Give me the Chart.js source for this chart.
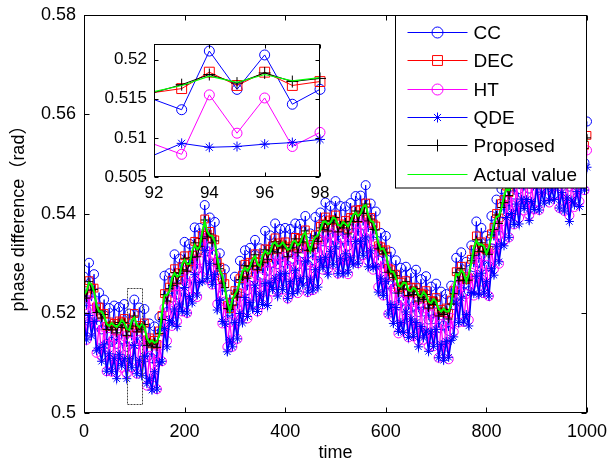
<!DOCTYPE html>
<html>
<head>
<meta charset="utf-8">
<script src="https://cdn.jsdelivr.net/npm/chart.js@4.4.1/dist/chart.umd.min.js"></script>
<style>
body { margin: 0; background: #fff; }
#wrap { position: relative; width: 611px; height: 468px; }
#wrap canvas { position: absolute; left: 0; top: 0; }
</style>
</head>
<body>
<div id="wrap">
  <canvas id="main" width="611" height="468"></canvas>
  <canvas id="inset" width="611" height="468"></canvas>
</div>
<script>
// time axis (sampled every 5 steps)
const time = [0,5,10,15,20,25,30,35,40,45,50,55,60,65,70,75,80,85,90,95,
  100,105,110,115,120,125,130,135,140,145,150,155,160,165,170,175,180,185,190,195,
  200,205,210,215,220,225,230,235,240,245,250,255,260,265,270,275,280,285,290,295,
  300,305,310,315,320,325,330,335,340,345,350,355,360,365,370,375,380,385,390,395,
  400,405,410,415,420,425,430,435,440,445,450,455,460,465,470,475,480,485,490,495,
  500,505,510,515,520,525,530,535,540,545,550,555,560,565,570,575,580,585,590,595,
  600,605,610,615,620,625,630,635,640,645,650,655,660,665,670,675,680,685,690,695,
  700,705,710,715,720,725,730,735,740,745,750,755,760,765,770,775,780,785,790,795,
  800,805,810,815,820,825,830,835,840,845,850,855,860,865,870,875,880,885,890,895,
  900,905,910,915,920,925,930,935,940,945,950,955,960,965,970,975,980,985,990,995,1000];

const actual = [0.5238,0.5245,0.5262,0.5259,0.5244,0.5217,0.5204,0.5204,0.5195,0.5179,
  0.5175,0.5181,0.5176,0.5173,0.5178,0.5187,0.5181,0.5169,0.5167,0.5186,
  0.5192,0.5177,0.5172,0.5179,0.5174,0.5151,0.5142,0.5146,0.5141,0.5143,
  0.5157,0.5202,0.5236,0.5237,0.5246,0.5271,0.5281,0.5274,0.5277,0.5299,
  0.5308,0.5299,0.5300,0.5325,0.5338,0.5329,0.5334,0.5364,0.5385,0.5365,
  0.5357,0.5356,0.5344,0.5311,0.5286,0.5276,0.5251,0.5223,0.5205,0.5228,
  0.5238,0.5247,0.5266,0.5285,0.5292,0.5286,0.5294,0.5309,0.5315,0.5299,
  0.5295,0.5316,0.5326,0.5320,0.5322,0.5340,0.5343,0.5335,0.5337,0.5343,
  0.5336,0.5328,0.5330,0.5344,0.5346,0.5337,0.5342,0.5357,0.5363,0.5338,
  0.5325,0.5345,0.5354,0.5357,0.5368,0.5384,0.5385,0.5379,0.5383,0.5393,
  0.5390,0.5378,0.5376,0.5384,0.5380,0.5375,0.5384,0.5398,0.5403,0.5396,
  0.5401,0.5415,0.5418,0.5398,0.5386,0.5384,0.5367,0.5343,0.5329,0.5331,
  0.5320,0.5297,0.5284,0.5284,0.5272,0.5256,0.5254,0.5262,0.5261,0.5247,
  0.5245,0.5252,0.5248,0.5237,0.5234,0.5243,0.5237,0.5224,0.5221,0.5229,
  0.5224,0.5209,0.5204,0.5210,0.5204,0.5204,0.5218,0.5253,0.5279,0.5277,
  0.5287,0.5281,0.5264,0.5279,0.5302,0.5332,0.5347,0.5338,0.5339,0.5336,
  0.5320,0.5333,0.5356,0.5381,0.5394,0.5396,0.5412,0.5436,0.5451,0.5448,
  0.5457,0.5477,0.5486,0.5484,0.5490,0.5503,0.5501,0.5487,0.5483,0.5504,
  0.5512,0.5506,0.5510,0.5526,0.5530,0.5519,0.5522,0.5529,0.5527,0.5507,
  0.5499,0.5504,0.5498,0.5489,0.5488,0.5510,0.5517,0.5515,0.5523,0.5543,0.5550];

const cc = [0.5274,0.5207,0.5302,0.5225,0.5279,0.5178,0.5242,0.5168,0.5228,0.5139,
  0.5211,0.5143,0.5216,0.5139,0.5213,0.5148,0.5219,0.5133,0.5200,0.5146,
  0.5228,0.5139,0.5212,0.5145,0.5209,0.5112,0.5180,0.5110,0.5174,0.5103,
  0.5193,0.5164,0.5276,0.5203,0.5281,0.5232,0.5319,0.5238,0.5310,0.5259,
  0.5344,0.5261,0.5340,0.5291,0.5373,0.5290,0.5372,0.5328,0.5418,0.5325,
  0.5393,0.5318,0.5384,0.5277,0.5321,0.5237,0.5289,0.5187,0.5238,0.5188,
  0.5274,0.5209,0.5306,0.5251,0.5327,0.5247,0.5332,0.5273,0.5348,0.5259,
  0.5331,0.5278,0.5366,0.5286,0.5357,0.5301,0.5381,0.5299,0.5370,0.5303,
  0.5372,0.5290,0.5370,0.5310,0.5381,0.5298,0.5380,0.5321,0.5396,0.5298,
  0.5361,0.5307,0.5394,0.5323,0.5403,0.5345,0.5423,0.5343,0.5416,0.5353,
  0.5426,0.5340,0.5416,0.5350,0.5415,0.5336,0.5422,0.5362,0.5436,0.5356,
  0.5437,0.5377,0.5458,0.5364,0.5421,0.5345,0.5405,0.5307,0.5362,0.5291,
  0.5356,0.5259,0.5324,0.5250,0.5307,0.5217,0.5292,0.5226,0.5294,0.5207,
  0.5281,0.5214,0.5288,0.5203,0.5269,0.5204,0.5275,0.5188,0.5254,0.5189,
  0.5260,0.5171,0.5244,0.5176,0.5239,0.5165,0.5256,0.5217,0.5312,0.5237,
  0.5323,0.5243,0.5304,0.5245,0.5337,0.5293,0.5385,0.5302,0.5372,0.5296,
  0.5356,0.5295,0.5396,0.5347,0.5429,0.5357,0.5450,0.5400,0.5484,0.5408,
  0.5493,0.5439,0.5526,0.5450,0.5525,0.5464,0.5539,0.5451,0.5516,0.5464,
  0.5548,0.5468,0.5550,0.5492,0.5565,0.5480,0.5560,0.5493,0.5560,0.5467,
  0.5535,0.5466,0.5538,0.5455,0.5523,0.5471,0.5555,0.5479,0.5556,0.5503,0.5586];

const dec = [0.5246,0.5239,0.5266,0.5251,0.5251,0.5213,0.5213,0.5197,0.5200,0.5174,
  0.5183,0.5175,0.5180,0.5165,0.5185,0.5183,0.5190,0.5162,0.5172,0.5181,
  0.5200,0.5171,0.5176,0.5171,0.5181,0.5147,0.5151,0.5139,0.5146,0.5138,
  0.5165,0.5196,0.5240,0.5229,0.5253,0.5267,0.5290,0.5267,0.5282,0.5294,
  0.5316,0.5293,0.5304,0.5317,0.5345,0.5325,0.5343,0.5357,0.5390,0.5360,
  0.5365,0.5350,0.5348,0.5303,0.5293,0.5272,0.5260,0.5216,0.5210,0.5223,
  0.5246,0.5241,0.5270,0.5277,0.5299,0.5282,0.5303,0.5302,0.5320,0.5294,
  0.5303,0.5310,0.5330,0.5312,0.5329,0.5336,0.5352,0.5328,0.5342,0.5338,
  0.5344,0.5322,0.5334,0.5336,0.5353,0.5333,0.5351,0.5350,0.5368,0.5333,
  0.5333,0.5339,0.5358,0.5349,0.5375,0.5380,0.5394,0.5372,0.5388,0.5388,
  0.5398,0.5372,0.5380,0.5376,0.5387,0.5371,0.5393,0.5391,0.5408,0.5391,
  0.5409,0.5409,0.5422,0.5390,0.5393,0.5380,0.5376,0.5336,0.5334,0.5326,
  0.5328,0.5291,0.5288,0.5276,0.5279,0.5252,0.5263,0.5255,0.5266,0.5242,
  0.5253,0.5246,0.5252,0.5229,0.5241,0.5239,0.5246,0.5217,0.5226,0.5224,
  0.5232,0.5203,0.5208,0.5202,0.5211,0.5200,0.5227,0.5246,0.5284,0.5272,
  0.5295,0.5275,0.5268,0.5271,0.5309,0.5328,0.5356,0.5331,0.5344,0.5331,
  0.5328,0.5327,0.5360,0.5373,0.5401,0.5392,0.5421,0.5429,0.5456,0.5443,
  0.5465,0.5471,0.5490,0.5476,0.5497,0.5499,0.5510,0.5480,0.5488,0.5499,
  0.5520,0.5500,0.5514,0.5518,0.5537,0.5515,0.5531,0.5522,0.5532,0.5502,
  0.5507,0.5498,0.5502,0.5481,0.5495,0.5506,0.5526,0.5508,0.5528,0.5538,0.5558];

const ht = [0.5216,0.5147,0.5237,0.5167,0.5224,0.5121,0.5177,0.5114,0.5172,0.5084,
  0.5153,0.5083,0.5151,0.5081,0.5158,0.5091,0.5154,0.5079,0.5144,0.5091,
  0.5170,0.5079,0.5147,0.5087,0.5154,0.5055,0.5115,0.5056,0.5118,0.5048,
  0.5135,0.5104,0.5211,0.5145,0.5226,0.5175,0.5254,0.5184,0.5254,0.5204,
  0.5286,0.5201,0.5275,0.5233,0.5318,0.5233,0.5307,0.5274,0.5362,0.5270,
  0.5335,0.5258,0.5319,0.5219,0.5266,0.5180,0.5224,0.5133,0.5182,0.5133,
  0.5216,0.5149,0.5241,0.5193,0.5272,0.5190,0.5267,0.5219,0.5292,0.5204,
  0.5273,0.5218,0.5301,0.5228,0.5302,0.5244,0.5316,0.5245,0.5314,0.5248,
  0.5314,0.5230,0.5305,0.5252,0.5326,0.5241,0.5315,0.5267,0.5340,0.5243,
  0.5303,0.5247,0.5329,0.5265,0.5348,0.5288,0.5358,0.5289,0.5360,0.5298,
  0.5368,0.5280,0.5351,0.5292,0.5360,0.5279,0.5357,0.5308,0.5380,0.5301,
  0.5379,0.5317,0.5393,0.5306,0.5366,0.5288,0.5340,0.5253,0.5306,0.5236,
  0.5298,0.5199,0.5259,0.5192,0.5252,0.5160,0.5227,0.5172,0.5238,0.5152,
  0.5223,0.5154,0.5223,0.5145,0.5214,0.5147,0.5210,0.5134,0.5198,0.5134,
  0.5202,0.5111,0.5179,0.5118,0.5184,0.5108,0.5191,0.5163,0.5256,0.5182,
  0.5265,0.5183,0.5239,0.5187,0.5282,0.5236,0.5320,0.5248,0.5316,0.5241,
  0.5298,0.5235,0.5331,0.5289,0.5374,0.5300,0.5385,0.5346,0.5428,0.5353,
  0.5435,0.5379,0.5461,0.5392,0.5470,0.5407,0.5474,0.5397,0.5460,0.5409,
  0.5490,0.5408,0.5485,0.5434,0.5510,0.5423,0.5495,0.5439,0.5504,0.5412,
  0.5477,0.5406,0.5473,0.5397,0.5468,0.5414,0.5490,0.5425,0.5500,0.5448,0.5528];

const qde = [0.5182,0.5147,0.5196,0.5155,0.5184,0.5125,0.5132,0.5104,0.5137,0.5084,
  0.5119,0.5083,0.5110,0.5069,0.5118,0.5095,0.5109,0.5069,0.5109,0.5091,
  0.5136,0.5079,0.5106,0.5075,0.5114,0.5059,0.5070,0.5046,0.5083,0.5048,
  0.5101,0.5104,0.5170,0.5133,0.5186,0.5179,0.5209,0.5174,0.5219,0.5204,
  0.5252,0.5201,0.5234,0.5221,0.5278,0.5237,0.5262,0.5264,0.5327,0.5270,
  0.5301,0.5258,0.5278,0.5207,0.5226,0.5184,0.5179,0.5123,0.5147,0.5133,
  0.5182,0.5149,0.5200,0.5181,0.5232,0.5194,0.5222,0.5209,0.5257,0.5204,
  0.5239,0.5218,0.5260,0.5216,0.5262,0.5248,0.5271,0.5235,0.5279,0.5248,
  0.5280,0.5230,0.5264,0.5240,0.5286,0.5245,0.5270,0.5257,0.5305,0.5243,
  0.5269,0.5247,0.5288,0.5253,0.5308,0.5292,0.5313,0.5279,0.5325,0.5298,
  0.5334,0.5280,0.5310,0.5280,0.5320,0.5283,0.5312,0.5298,0.5345,0.5301,
  0.5345,0.5317,0.5352,0.5294,0.5326,0.5292,0.5295,0.5243,0.5271,0.5236,
  0.5264,0.5199,0.5218,0.5180,0.5212,0.5164,0.5182,0.5162,0.5203,0.5152,
  0.5189,0.5154,0.5182,0.5133,0.5174,0.5151,0.5165,0.5124,0.5163,0.5134,
  0.5168,0.5111,0.5138,0.5106,0.5144,0.5112,0.5146,0.5153,0.5221,0.5182,
  0.5231,0.5183,0.5198,0.5175,0.5242,0.5240,0.5275,0.5238,0.5281,0.5241,
  0.5264,0.5235,0.5290,0.5277,0.5334,0.5304,0.5340,0.5336,0.5393,0.5353,
  0.5401,0.5379,0.5420,0.5380,0.5430,0.5411,0.5429,0.5387,0.5425,0.5409,
  0.5456,0.5408,0.5444,0.5422,0.5470,0.5427,0.5450,0.5429,0.5469,0.5412,
  0.5443,0.5406,0.5432,0.5385,0.5428,0.5418,0.5445,0.5415,0.5465,0.5448,0.5494];

const proposed = [0.5241,0.5231,0.5264,0.5247,0.5248,0.5202,0.5205,0.5191,0.5198,0.5168,
  0.5178,0.5167,0.5178,0.5161,0.5182,0.5172,0.5182,0.5156,0.5170,0.5175,
  0.5195,0.5163,0.5174,0.5167,0.5178,0.5136,0.5143,0.5133,0.5144,0.5132,
  0.5160,0.5188,0.5238,0.5225,0.5250,0.5256,0.5282,0.5261,0.5280,0.5288,
  0.5311,0.5285,0.5302,0.5313,0.5342,0.5314,0.5335,0.5351,0.5388,0.5354,
  0.5360,0.5342,0.5346,0.5299,0.5290,0.5261,0.5252,0.5210,0.5208,0.5217,
  0.5241,0.5233,0.5268,0.5273,0.5296,0.5271,0.5295,0.5296,0.5318,0.5288,
  0.5298,0.5302,0.5328,0.5308,0.5326,0.5325,0.5344,0.5322,0.5340,0.5332,
  0.5339,0.5314,0.5332,0.5332,0.5350,0.5322,0.5343,0.5344,0.5366,0.5327,
  0.5328,0.5331,0.5356,0.5345,0.5372,0.5369,0.5386,0.5366,0.5386,0.5382,
  0.5393,0.5364,0.5378,0.5372,0.5384,0.5360,0.5385,0.5385,0.5406,0.5385,
  0.5404,0.5401,0.5420,0.5386,0.5390,0.5369,0.5368,0.5330,0.5332,0.5320,
  0.5323,0.5283,0.5286,0.5272,0.5276,0.5241,0.5255,0.5249,0.5264,0.5236,
  0.5248,0.5238,0.5250,0.5225,0.5238,0.5228,0.5238,0.5211,0.5224,0.5218,
  0.5227,0.5195,0.5206,0.5198,0.5208,0.5189,0.5219,0.5240,0.5282,0.5266,
  0.5290,0.5267,0.5266,0.5267,0.5306,0.5317,0.5348,0.5325,0.5342,0.5325,
  0.5323,0.5319,0.5358,0.5369,0.5398,0.5381,0.5413,0.5423,0.5454,0.5437,
  0.5460,0.5463,0.5488,0.5472,0.5494,0.5488,0.5502,0.5474,0.5486,0.5493,
  0.5515,0.5492,0.5512,0.5514,0.5534,0.5504,0.5523,0.5516,0.5530,0.5496,
  0.5502,0.5490,0.5500,0.5477,0.5492,0.5495,0.5518,0.5502,0.5526,0.5532,0.5553];

// zoomed window shown in the inset
const insetTime = [92, 93, 94, 95, 96, 97, 98];
const insetCC = [0.5149, 0.5136, 0.5211, 0.5162, 0.5206, 0.5143, 0.5162];
const insetDEC = [0.5158, 0.5163, 0.5184, 0.5167, 0.5184, 0.5167, 0.5172];
const insetHT = [0.5092, 0.5079, 0.5155, 0.5106, 0.5151, 0.5089, 0.5107];
const insetQDE = [0.5078, 0.5093, 0.5088, 0.5089, 0.5092, 0.5094, 0.5098];
const insetProposed = [0.5158, 0.5168, 0.5181, 0.5170, 0.5183, 0.5172, 0.5176];
const insetActual = [0.5159, 0.5167, 0.5179, 0.5171, 0.5181, 0.5173, 0.5177];

// tick labels
const xTicks = [0, 200, 400, 600, 800, 1000];
const yTicks = [0.5, 0.52, 0.54, 0.56, 0.58];
const insetXTicks = [92, 94, 96, 98];
const insetYTicks = [0.505, 0.51, 0.515, 0.52];

// area marked on the main plot (data units)
const zoomBox = { x0: 86, x1: 116, y0: 0.5018, y1: 0.5251 };

const FONT = '"Liberation Sans", Arial, "Noto Sans CJK SC", sans-serif';

function pts(xs, ys) {
  return xs.map((x, i) => ({ x: x, y: ys[i] }));
}

function marker(ctx, style, x, y, r) {
  ctx.beginPath();
  if (style === 'circle') {
    ctx.arc(x, y, r, 0, Math.PI * 2);
  } else if (style === 'rect') {
    const s = r / Math.SQRT2;
    ctx.rect(x - s, y - s, 2 * s, 2 * s);
  } else if (style === 'cross' || style === 'star') {
    ctx.moveTo(x, y - r); ctx.lineTo(x, y + r);
    ctx.moveTo(x - r, y); ctx.lineTo(x + r, y);
    if (style === 'star') {
      const d = r * Math.SQRT1_2;
      ctx.moveTo(x - d, y - d); ctx.lineTo(x + d, y + d);
      ctx.moveTo(x - d, y + d); ctx.lineTo(x + d, y - d);
    }
  }
  ctx.stroke();
}

// series styles, listed top-most first (Chart.js draws the first dataset on top)
function makeSets(ys, sizes, widths, radiusFn) {
  const defs = [
    { label: 'Actual value', color: '#00ff00', style: false },
    { label: 'Proposed', color: '#000000', style: 'cross' },
    { label: 'QDE', color: '#0000ff', style: 'star' },
    { label: 'HT', color: '#ff00ff', style: 'circle' },
    { label: 'DEC', color: '#ff0000', style: 'rect' },
    { label: 'CC', color: '#0000ff', style: 'circle' }
  ];
  return defs.map((d, i) => ({
    label: d.label,
    data: ys[i],
    borderColor: d.color,
    borderWidth: widths[i],
    pointStyle: d.style || 'circle',
    pointRadius: d.style ? (radiusFn ? radiusFn(sizes[i]) : sizes[i]) : 0,
    pointHoverRadius: d.style ? sizes[i] : 0,
    pointBorderColor: d.color,
    pointBackgroundColor: 'rgba(0,0,0,0)',
    pointBorderWidth: 1,
    tension: 0,
    fill: false
  }));
}

const frame = {
  id: 'frame',
  beforeDraw(chart, args, o) {
    const ctx = chart.ctx, a = chart.chartArea;
    ctx.save();
    ctx.fillStyle = '#fff';
    if (o.whole) ctx.fillRect(0, 0, chart.width, chart.height);
    else ctx.fillRect(a.left, a.top, a.right - a.left, a.bottom - a.top);
    ctx.restore();
  },
  afterDatasetsDraw(chart, args, o) {
    const ctx = chart.ctx, a = chart.chartArea;
    const x = chart.scales.x, y = chart.scales.y;
    ctx.save();

    if (o.box) {
      ctx.strokeStyle = '#444';
      ctx.lineWidth = 1;
      ctx.setLineDash([2, 1]);
      const bx0 = Math.round(x.getPixelForValue(o.box.x0)) + 0.5;
      const bx1 = Math.round(x.getPixelForValue(o.box.x1)) + 0.5;
      const by0 = Math.round(y.getPixelForValue(o.box.y0)) + 0.5;
      const by1 = Math.round(y.getPixelForValue(o.box.y1)) + 0.5;
      ctx.strokeRect(bx0, by1, bx1 - bx0, by0 - by1);
      ctx.setLineDash([]);
    }

    // axes box and inward ticks
    ctx.strokeStyle = '#000';
    ctx.lineWidth = 1;
    const L = Math.round(a.left) + 0.5, R = Math.round(a.right) - 0.5;
    const T = Math.round(a.top) + 0.5, B = Math.round(a.bottom) - 0.5;
    ctx.strokeRect(L, T, R - L, B - T);
    ctx.beginPath();
    o.xTicks.forEach(v => {
      const px = Math.round(x.getPixelForValue(v)) + 0.5;
      ctx.moveTo(px, B); ctx.lineTo(px, B - o.tick);
      ctx.moveTo(px, T); ctx.lineTo(px, T + o.tick);
    });
    o.yTicks.forEach(v => {
      const py = Math.round(y.getPixelForValue(v)) + 0.5;
      ctx.moveTo(L, py); ctx.lineTo(L + o.tick, py);
      ctx.moveTo(R, py); ctx.lineTo(R - o.tick, py);
    });
    ctx.stroke();

    // tick labels
    ctx.fillStyle = '#000';
    ctx.font = o.size + 'px ' + FONT;
    ctx.textAlign = 'center';
    ctx.textBaseline = 'middle';
    o.xTicks.forEach(v => ctx.fillText(String(v), x.getPixelForValue(v), a.bottom + o.xGap));
    ctx.textAlign = 'right';
    o.yTicks.forEach(v => ctx.fillText(String(v), a.left - o.yGap, y.getPixelForValue(v)));

    // axis titles
    if (o.xTitle) {
      ctx.textAlign = 'center';
      ctx.fillText(o.xTitle, (a.left + a.right) / 2, o.xTitleY);
    }
    if (o.yTitle) {
      ctx.save();
      ctx.translate(o.yTitleX, (a.top + a.bottom) / 2);
      ctx.rotate(-Math.PI / 2);
      ctx.textAlign = 'center';
      ctx.fillText(o.yTitle, 0, 0);
      ctx.restore();
    }

    // legend
    if (o.legend) {
      const g = o.legend;
      const lx = Math.round(g.left) + 0.5, ly = T;
      const w = R - lx, h = g.bottom - T;
      ctx.fillStyle = '#fff';
      ctx.fillRect(lx, ly, w, h);
      ctx.strokeStyle = '#000';
      ctx.strokeRect(lx, ly, w, h);
      ctx.font = g.size + 'px ' + FONT;
      ctx.textAlign = 'left';
      ctx.textBaseline = 'middle';
      const sets = chart.data.datasets.slice().reverse();
      sets.forEach((ds, k) => {
        const cy = Math.round(g.first + k * g.step) + 0.5;
        ctx.strokeStyle = ds.borderColor;
        ctx.lineWidth = 1;
        ctx.beginPath();
        ctx.moveTo(lx + 12, cy); ctx.lineTo(lx + 72, cy);
        ctx.stroke();
        if (ds.pointRadius) marker(ctx, ds.pointStyle, lx + 42, cy, g.marks[ds.pointStyle]);
        ctx.fillStyle = '#000';
        ctx.fillText(ds.label, lx + 78, cy + 1);
      });
    }
    ctx.restore();
  }
};

const mainSets = makeSets(
  [pts(time, actual), pts(time, proposed), pts(time, qde), pts(time, ht), pts(time, dec), pts(time, cc)],
  [0, 4, 4.5, 4.5, 5.5, 4.5],
  [2, 1, 1.6, 1.3, 1.2, 1]
);
mainSets.forEach(ds => { ds.clip = { left: 0, top: 0, right: 6, bottom: 0 }; });

new Chart(document.getElementById('main'), {
  type: 'line',
  data: { datasets: mainSets },
  plugins: [frame],
  options: {
    responsive: false,
    animation: false,
    devicePixelRatio: 1,
    events: [],
    layout: { padding: { left: 84, right: 24, top: 15, bottom: 55 } },
    scales: {
      x: { type: 'linear', display: false, min: 0, max: 1000 },
      y: { type: 'linear', display: false, min: 0.5, max: 0.58 }
    },
    plugins: {
      legend: { display: false },
      tooltip: { enabled: false },
      frame: {
        whole: true,
        box: zoomBox,
        xTicks: xTicks,
        yTicks: yTicks,
        tick: 5,
        size: 18,
        xGap: 19,
        yGap: 8,
        xTitle: 'time',
        xTitleY: 453,
        yTitle: 'phase difference（rad）',
        yTitleX: 19,
        legend: {
          left: 395, bottom: 188, first: 32, step: 28.3, size: 19,
          marks: { circle: 5.5, rect: 7, star: 5, cross: 6 }
        }
      }
    }
  }
});

const insetSets = makeSets(
  [pts(insetTime, insetActual), pts(insetTime, insetProposed), pts(insetTime, insetQDE),
   pts(insetTime, insetHT), pts(insetTime, insetDEC), pts(insetTime, insetCC)],
  [0, 6, 5, 5, 7, 5],
  [1.2, 1, 1, 1, 1, 1],
  r => (c => (c.raw && c.raw.x === insetTime[0]) ? 0 : r)
);
insetSets.forEach(ds => { ds.clip = { left: 0, top: 8, right: 10, bottom: 8 }; });

new Chart(document.getElementById('inset'), {
  type: 'line',
  data: { datasets: insetSets },
  plugins: [frame],
  options: {
    responsive: false,
    animation: false,
    devicePixelRatio: 1,
    events: [],
    layout: { padding: { left: 154, right: 291, top: 44, bottom: 291 } },
    scales: {
      x: { type: 'linear', display: false, min: 92, max: 98 },
      y: { type: 'linear', display: false, min: 0.505, max: 0.522 }
    },
    plugins: {
      legend: { display: false },
      tooltip: { enabled: false },
      frame: {
        whole: false,
        xTicks: insetXTicks,
        yTicks: insetYTicks,
        tick: 4,
        size: 17,
        xGap: 16,
        yGap: 7
      }
    }
  }
});
</script>
</body>
</html>
